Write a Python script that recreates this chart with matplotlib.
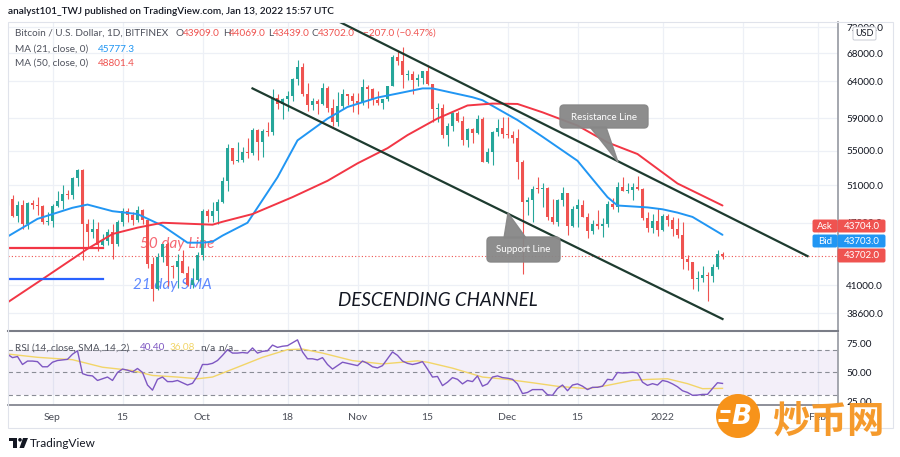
import matplotlib
matplotlib.use("Agg")
import matplotlib.pyplot as plt
import matplotlib.dates as mdates
from matplotlib.patches import FancyBboxPatch, Polygon, Circle, Rectangle
from matplotlib.ticker import NullLocator
import numpy as np
import pandas as pd

plt.rcParams['font.family'] = ['Lato', 'DejaVu Sans', 'Noto Sans CJK SC']

# ---------------- data (prices in thousands USD) ----------------
first_day = "2021-08-23"
opens = [49.0, 49.5, 47.7, 48.9, 46.9, 49.1, 48.9, 48.8, 47.1, 47.15,
         48.8, 49.3, 50.0, 49.9, 51.8, 52.7, 46.9, 46.1, 46.4, 44.8,
         45.2, 46.1, 44.9, 47.1, 48.2, 47.8, 47.3, 48.3, 47.3, 43.0,
         40.7, 43.6, 44.9, 42.8, 42.7, 43.2, 42.1, 41.0, 41.5, 43.8,
         48.2, 47.7, 48.2, 49.2, 51.5, 55.3, 53.8, 53.9, 54.9, 54.7,
         57.5, 56.0, 57.4, 57.3, 61.7, 60.9, 61.5, 62.0, 64.3, 66.0,
         62.2, 60.7, 61.3, 60.9, 63.1, 60.4, 58.5, 60.6, 62.3, 61.9,
         61.3, 61.0, 63.2, 62.9, 61.4, 61.0, 61.5, 63.3, 67.5, 66.9,
         64.9, 64.95, 64.2, 64.4, 65.5, 63.6, 60.2, 60.4, 56.9, 58.1,
         59.7, 58.7, 56.3, 57.6, 57.2, 58.9, 53.6, 54.8, 57.3, 57.8,
         57.0, 56.9, 56.5, 53.6, 49.2, 49.4, 50.6, 50.55, 50.7, 47.6,
         47.1, 49.4, 50.1, 46.7, 48.4, 48.9, 47.6, 46.2, 46.9, 46.7,
         46.9, 49.0, 48.6, 50.8, 50.4, 50.5, 50.8, 50.6, 47.5, 46.5,
         47.2, 46.3, 47.7, 47.3, 46.4, 45.8, 43.4, 43.1, 41.6, 41.7,
         41.9, 41.8, 42.7, 43.909]
highs = [50.5, 49.9, 49.3, 49.4, 49.2, 49.4, 49.7, 48.9, 48.1, 49.0,
         50.4, 51.0, 50.5, 51.9, 52.9, 52.9, 47.4, 47.4, 47.1, 45.9,
         46.4, 46.9, 47.3, 48.5, 48.5, 48.1, 48.8, 48.4, 47.4, 43.6,
         44.0, 44.9, 45.1, 42.9, 43.9, 44.3, 42.8, 42.6, 44.1, 48.4,
         48.4, 49.2, 49.5, 51.9, 55.8, 55.3, 56.1, 55.5, 56.5, 57.8,
         57.6, 57.7, 58.5, 62.9, 62.3, 61.7, 62.6, 64.5, 67.0, 66.6,
         63.7, 61.7, 61.5, 63.7, 63.3, 61.5, 62.5, 62.9, 62.3, 62.4,
         62.4, 64.3, 63.5, 63.1, 62.6, 61.6, 63.3, 67.8, 68.5, 69.0,
         65.6, 65.4, 65.0, 65.5, 66.3, 63.6, 61.0, 60.9, 58.4, 59.8,
         60.0, 59.3, 57.8, 57.8, 59.4, 59.2, 55.3, 57.4, 58.9, 59.2,
         59.2, 57.4, 57.6, 53.9, 49.7, 50.9, 51.9, 51.2, 50.8, 49.5,
         49.5, 50.8, 50.2, 48.7, 49.5, 49.4, 48.0, 47.3, 48.3, 47.5,
         49.3, 49.6, 51.4, 51.9, 51.2, 51.2, 52.1, 50.7, 48.1, 47.9,
         48.5, 47.9, 47.9, 47.6, 47.5, 47.1, 43.8, 43.1, 42.3, 42.8,
         42.2, 43.0, 44.3, 44.069]
lows = [48.9, 47.6, 47.1, 46.4, 46.4, 48.4, 47.8, 46.9, 46.8, 46.6,
        48.6, 48.4, 49.5, 49.5, 50.9, 43.3, 44.5, 45.5, 44.2, 44.7,
        44.8, 43.4, 44.7, 46.7, 47.1, 46.8, 47.1, 46.9, 42.6, 39.6,
        40.6, 43.1, 40.9, 41.7, 40.8, 42.1, 40.9, 40.8, 41.4, 43.3,
        47.1, 47.1, 46.9, 49.1, 50.4, 53.4, 53.6, 53.7, 54.1, 54.5,
        53.9, 54.2, 56.8, 56.9, 60.2, 58.9, 60.0, 61.3, 63.5, 62.0,
        60.0, 60.1, 59.6, 60.7, 59.9, 58.1, 58.0, 60.2, 60.8, 59.9,
        59.6, 60.7, 60.4, 60.7, 60.8, 60.2, 61.3, 63.3, 66.3, 63.0,
        64.1, 62.3, 63.4, 63.6, 63.5, 58.6, 58.6, 56.5, 55.6, 57.4,
        58.5, 55.7, 55.4, 55.9, 57.0, 53.6, 53.5, 53.3, 56.8, 56.6,
        56.5, 55.9, 51.7, 42.0, 47.8, 47.1, 50.1, 48.6, 47.3, 46.9,
        46.7, 48.7, 45.8, 46.6, 46.6, 47.6, 45.5, 45.9, 46.4, 45.6,
        46.6, 48.4, 48.1, 50.4, 50.2, 49.4, 50.5, 47.3, 46.1, 46.0,
        45.7, 46.2, 46.7, 45.7, 45.5, 42.5, 42.4, 40.7, 40.5, 41.3,
        39.6, 41.3, 42.5, 43.439]
closes = [49.5, 47.7, 48.9, 46.9, 49.1, 48.9, 48.8, 47.1, 47.15, 48.8,
          49.3, 50.0, 49.9, 51.8, 52.7, 46.9, 46.1, 46.4, 44.8, 45.2,
          46.1, 44.9, 47.1, 48.2, 47.8, 47.3, 48.3, 47.3, 43.0, 40.7,
          43.6, 44.9, 42.8, 42.7, 43.2, 42.1, 41.0, 41.5, 43.8, 48.2,
          47.7, 48.2, 49.2, 51.5, 55.3, 53.8, 53.9, 54.9, 54.7, 57.5,
          56.0, 57.4, 57.3, 61.7, 60.9, 61.5, 62.0, 64.3, 66.0, 62.2,
          60.7, 61.3, 60.9, 63.1, 60.4, 58.5, 60.6, 62.3, 61.9, 61.3,
          61.0, 63.2, 62.9, 61.4, 61.0, 61.5, 63.3, 67.5, 66.9, 64.9,
          64.95, 64.2, 64.4, 65.5, 63.6, 60.2, 60.4, 56.9, 58.1, 59.7,
          58.7, 56.3, 57.6, 57.2, 58.9, 53.6, 54.8, 57.3, 57.8, 57.0,
          56.9, 56.5, 53.6, 49.2, 49.4, 50.6, 50.55, 50.7, 47.6, 47.1,
          49.4, 50.1, 46.7, 48.4, 48.9, 47.6, 46.2, 46.9, 46.7, 46.9,
          49.0, 48.6, 50.8, 50.4, 50.5, 50.8, 50.6, 47.5, 46.5, 47.2,
          46.3, 47.7, 47.3, 46.4, 45.8, 43.4, 43.1, 41.6, 41.7, 41.9,
          41.8, 42.7, 43.9, 43.702]

ma21_dates = ["2021-08-23", "2021-08-29", "2021-09-05", "2021-09-08", "2021-09-13",
              "2021-09-18", "2021-09-23", "2021-09-28", "2021-10-01", "2021-10-03",
              "2021-10-05", "2021-10-10", "2021-10-16", "2021-10-20", "2021-10-26",
              "2021-10-30", "2021-11-05", "2021-11-09", "2021-11-14", "2021-11-16",
              "2021-11-24", "2021-11-26", "2021-12-03", "2021-12-08", "2021-12-15",
              "2021-12-18", "2021-12-21", "2021-12-23", "2021-12-29", "2022-01-01",
              "2022-01-04", "2022-01-07", "2022-01-13"]
ma21_vals = [45.6, 47.4, 48.56, 48.9, 48.2, 47.9, 46.7, 45.0, 45.0, 45.1,
             45.7, 47.0, 51.9, 56.25, 58.98, 60.5, 61.76, 62.3, 63.0, 63.0,
             61.8, 61.4, 58.8, 56.7, 53.8, 51.7, 49.7, 48.8, 48.6, 48.4,
             48.05, 47.6, 45.7773]
ma50_dates = ["2021-08-23", "2021-08-30", "2021-09-08", "2021-09-13", "2021-09-18",
              "2021-09-23", "2021-09-28", "2021-10-03", "2021-10-05", "2021-10-11",
              "2021-10-19", "2021-10-26", "2021-11-01", "2021-11-07", "2021-11-11",
              "2021-11-17", "2021-11-23", "2021-11-28", "2021-12-03", "2021-12-08",
              "2021-12-15", "2021-12-21", "2021-12-27", "2022-01-04", "2022-01-13"]
ma50_vals = [39.5, 41.56, 44.4, 45.86, 46.5, 47.0, 46.9, 46.8, 47.1, 47.9,
             49.7, 51.5, 53.5, 55.3, 56.9, 59.0, 60.7, 60.95, 60.9, 59.8,
             58.1, 56.0, 54.6, 51.2, 48.8014]

rsi_vals = [66, 63, 64, 57, 60, 60, 59.5, 55, 55, 59,
            60.5, 61, 61.5, 66, 69, 49, 47.5, 47, 43, 44.5,
            46, 43, 50, 53, 52, 50.5, 53.5, 50, 39, 34.5,
            44, 46, 42, 42, 43, 41, 39, 40.5, 47, 57,
            57, 58, 60.5, 65, 70, 67, 67, 67.5, 67, 71.5,
            67, 68.5, 69, 74, 72, 73, 73.5, 76, 78.6, 68,
            62, 62, 61, 63, 57, 53, 56, 59, 58, 57,
            56, 60, 58, 55, 54, 56, 62, 68, 65, 60,
            58, 57, 58, 59.5, 53, 46, 46.5, 38.5, 41.5, 45.5,
            44, 40, 43, 42, 47, 38, 40, 46, 47, 45.5,
            45, 44, 40, 31.5, 32.5, 35, 35, 35, 30.5, 30,
            36, 39, 34, 39, 40, 38, 35, 37, 37, 38,
            44, 43.5, 50, 49.5, 49.8, 50.3, 49.5, 41.5, 38.7, 40.2,
            39, 43, 42, 40, 37.5, 34, 32.5, 30, 30.2, 30.8,
            30.8, 36, 41, 40.4]
rsi_sma_dates = ["2021-08-23", "2021-08-29", "2021-09-05", "2021-09-11", "2021-09-17",
                 "2021-09-21", "2021-09-26", "2021-09-30", "2021-10-03", "2021-10-08",
                 "2021-10-13", "2021-10-18", "2021-10-21", "2021-10-25", "2021-10-31",
                 "2021-11-06", "2021-11-10", "2021-11-13", "2021-11-15", "2021-11-20",
                 "2021-11-26", "2021-12-01", "2021-12-06", "2021-12-11", "2021-12-17",
                 "2021-12-21", "2021-12-26", "2021-12-29", "2022-01-02", "2022-01-06",
                 "2022-01-09", "2022-01-13"]
rsi_sma_vals = [66.2, 63.3, 61.2, 54.6, 51.7, 47.4, 46.0, 44.5, 46.0, 54.6,
                63.3, 70.0, 70.5, 67.0, 60.4, 57.5, 59.0, 60.2, 59.0, 53.8,
                46.0, 43.9, 41.0, 37.9, 35.8, 38.7, 43.1, 43.9, 44.5, 40.2,
                35.8, 36.08]

price_ticks = [72000, 68000, 64000, 59000, 55000, 51000, 47000, 41000, 38600]
rsi_ticks = [75, 50, 25]
time_tick_dates = ["2021-09-01", "2021-09-15", "2021-10-01", "2021-10-18", "2021-11-01",
                   "2021-11-15", "2021-12-01", "2021-12-15", "2022-01-01", "2022-01-17",
                   "2022-02-01"]
time_tick_labels = ["Sep", "15", "Oct", "18", "Nov", "15", "Dec", "15", "2022", "17", "Feb"]

resistance_dates, resistance_prices = ["2021-10-27", "2022-01-30"], [73400, 43700]
support_dates, support_prices = ["2021-10-11", "2022-01-13"], [63000, 38100]
hline_dates = ["2021-08-22", "2021-09-11"]
red_hline_price = 44500
blue_hline_price = 41560
last_price = 43702.0

# ---------------- style ----------------
GREEN = '#26a69a'
RED = '#ef5350'
BLUE = '#2196f3'
MA50C = '#f23645'
PURPLE = '#7e57c2'
YELLOW = '#f2d568'
GRID = '#edf0f6'
TXT = '#131722'
LG = '#50535e'
K = 1000.0

W, H = 900, 457
fig = plt.figure(figsize=(9, 4.57), dpi=100)
fig.patch.set_facecolor('white')

def frac(l, t, r, b):
    return [l / W, 1 - b / H, (r - l) / W, (b - t) / H]

ax = fig.add_axes(frac(8, 22, 838, 331))
ax2 = fig.add_axes(frac(8, 333, 838, 405))

sep1 = mdates.date2num(pd.Timestamp("2021-09-01"))
xlim = (sep1 - 8.9, sep1 + 157.1)
tick_x = mdates.date2num(pd.to_datetime(time_tick_dates))

# ---- main price panel ----
ax.set_yscale('log')
ax.set_xlim(*xlim)
ax.set_ylim(37115, 72820)
for tx in tick_x:
    ax.axvline(tx, color=GRID, lw=0.9, zorder=0)
for p in price_ticks:
    ax.axhline(p, color=GRID, lw=0.9, zorder=0)

dates = pd.date_range(first_day, periods=len(closes), freq="D")
x = mdates.date2num(dates)
o = np.array(opens) * K
h = np.array(highs) * K
l = np.array(lows) * K
c = np.array(closes) * K
col = np.where(c >= o, GREEN, RED)
ax.vlines(x, l, h, colors=col, lw=0.8, zorder=3)
bot = np.minimum(o, c)
top = np.maximum(np.maximum(o, c), bot * 1.0022)
ax.bar(x, top - bot, bottom=bot, width=0.68, color=col, linewidth=0, zorder=4)

ax.plot(mdates.date2num(pd.to_datetime(ma21_dates)), np.array(ma21_vals) * K,
        color=BLUE, lw=1.4, zorder=5, solid_capstyle='round', solid_joinstyle='round')
ax.plot(mdates.date2num(pd.to_datetime(ma50_dates)), np.array(ma50_vals) * K,
        color=MA50C, lw=1.4, zorder=5, solid_capstyle='round', solid_joinstyle='round')

ax.plot(mdates.date2num(pd.to_datetime(resistance_dates)), resistance_prices,
        color='#1d3b2f', lw=1.6, zorder=6)
ax.plot(mdates.date2num(pd.to_datetime(support_dates)), support_prices,
        color='#1d3b2f', lw=1.6, zorder=6)

hx = mdates.date2num(pd.to_datetime(hline_dates))
ax.plot(hx, [red_hline_price] * 2, color=MA50C, lw=1.6, zorder=5)
ax.plot(hx, [blue_hline_price] * 2, color='#2962ff', lw=1.6, zorder=5)

ax.axhline(last_price, color=RED, lw=0.8, ls=(0, (1, 2)), zorder=2)

ax.text(mdates.date2num(pd.Timestamp("2021-09-26")), 44900, "50 day Line",
        color=MA50C, alpha=0.75, fontsize=11, style='italic', ha='center', va='center', zorder=2)
ax.text(mdates.date2num(pd.Timestamp("2021-09-25")), 41050, "21 day SMA",
        color='#2962ff', alpha=0.75, fontsize=11, style='italic', ha='center', va='center', zorder=2)
ax.text(mdates.date2num(pd.Timestamp("2021-11-17")), 39650, "DESCENDING CHANNEL",
        color='#131722', fontsize=13.5, style='italic', ha='center', va='center', zorder=6)

ax.yaxis.tick_right()
ax.set_yticks(price_ticks)
ax.set_yticklabels([f"{p:.1f}" for p in price_ticks])
ax.yaxis.set_minor_locator(NullLocator())
ax.tick_params(axis='y', which='both', length=0, pad=6, labelsize=7.2, labelcolor=TXT)
ax.set_xticks([])
for s in ['left', 'top']:
    ax.spines[s].set_visible(False)
ax.spines['right'].set_color('#9598a1')
ax.spines['right'].set_linewidth(1.2)
ax.spines['bottom'].set_color('#7a7d87')
ax.spines['bottom'].set_linewidth(1.5)

# ---- RSI panel ----
ax2.set_xlim(*xlim)
ax2.set_ylim(21.5, 84.6)
for tx in tick_x:
    ax2.axvline(tx, color=GRID, lw=0.9, zorder=0)
ax2.axhspan(30, 70, color=PURPLE, alpha=0.09, lw=0, zorder=1)
for lv in (70, 50, 30):
    ax2.axhline(lv, color='#8a8d96', lw=0.8, ls=(0, (4, 3)), zorder=2)
ax2.plot(x, rsi_vals, color=PURPLE, lw=1.0, zorder=4)
ax2.plot(mdates.date2num(pd.to_datetime(rsi_sma_dates)), rsi_sma_vals,
         color=YELLOW, lw=1.0, zorder=3)
ax2.yaxis.tick_right()
ax2.set_yticks(rsi_ticks)
ax2.set_yticklabels([f"{v:.2f}" for v in rsi_ticks])
ax2.tick_params(axis='y', length=0, pad=6, labelsize=7.2, labelcolor=TXT)
ax2.set_xticks(tick_x)
ax2.set_xticklabels(time_tick_labels)
ax2.tick_params(axis='x', length=0, pad=6, labelsize=7.5, labelcolor='#4a4d57')
for s in ['left', 'top']:
    ax2.spines[s].set_visible(False)
ax2.spines['right'].set_color('#9598a1')
ax2.spines['right'].set_linewidth(1.2)
ax2.spines['bottom'].set_color('#7a7d87')
ax2.spines['bottom'].set_linewidth(1.2)

# ---- overlay (pixel coordinates) ----
ov = fig.add_axes([0, 0, 1, 1], zorder=10)
ov.set_xlim(0, W)
ov.set_ylim(H, 0)
ov.axis('off')

ov.add_patch(Rectangle((8, 22), 885, 406, fill=False, ec='#e0e3eb', lw=0.8))

def t(xp, yp, s, color=LG, fs=7.2, **kw):
    ov.text(xp, yp, s, color=color, fontsize=fs, va='center', **kw)

t(8, 12, "analyst101_TWJ published on TradingView.com, Jan 13, 2022 15:57 UTC",
  color=TXT, fs=7.2, fontweight='semibold')
t(15, 33, "Bitcoin / U.S. Dollar, 1D, BITFINEX")
t(175, 33, "O"); t(183, 33, "43909.0", RED)
t(223, 33, "H"); t(229, 33, "44069.0", RED)
t(268, 33, "L"); t(273, 33, "43439.0", RED)
t(311, 33, "C"); t(318, 33, "43702.0", RED)
t(363, 33, "\u2212207.0 (\u22120.47%)", RED)
t(15, 49, "MA (21, close, 0)"); t(98, 49, "45777.3", BLUE)
t(15, 63, "MA (50, close, 0)"); t(98, 63, "48801.4", RED)
t(15, 348, "RSI (14, close, SMA, 14, 2)"); t(140, 348, "40.40", PURPLE)
t(170, 348, "36.08", YELLOW); t(200, 348, "n/a"); t(218, 348, "n/a")

def pbox(x0, y0, x1, y1, fc, txt, tc='white', fs=7.0, ec=None):
    ov.add_patch(FancyBboxPatch((x0, y0), x1 - x0, y1 - y0,
                                boxstyle="round,pad=0,rounding_size=1.5",
                                fc=fc, ec=ec or fc, lw=0.7))
    ov.text((x0 + x1) / 2, (y0 + y1) / 2 + 0.5, txt, color=tc, fontsize=fs,
            ha='center', va='center')

pbox(853, 27, 876, 40, 'white', "USD", tc=TXT, fs=6.5, ec='#c8cbd3')
pbox(813, 220, 837, 232, RED, "Ask")
pbox(838, 220, 885, 232, RED, "43704.0")
pbox(813, 235, 837, 247, BLUE, "Bid")
pbox(838, 235, 885, 247, BLUE, "43703.0")
pbox(838, 249, 885, 262, RED, "43702.0")

CALL = '#878787'
ov.add_patch(FancyBboxPatch((560, 105), 88, 23, boxstyle="round,pad=0,rounding_size=4",
                            fc=CALL, ec=CALL, alpha=0.95))
ov.add_patch(Polygon([(590, 127), (606, 127), (618, 162)], closed=True, fc=CALL, ec=CALL, alpha=0.95))
ov.text(604, 117, "Resistance Line", color='white', fontsize=7, ha='center', va='center')
ov.add_patch(FancyBboxPatch((487, 237), 73, 25, boxstyle="round,pad=0,rounding_size=4",
                            fc=CALL, ec=CALL, alpha=0.95))
ov.add_patch(Polygon([(504, 238), (526, 238), (508, 213)], closed=True, fc=CALL, ec=CALL, alpha=0.95))
ov.text(523.5, 250, "Support Line", color='white', fontsize=7, ha='center', va='center')

# TradingView logo
ov.add_patch(Rectangle((9, 438), 8, 3.2, fc=TXT, ec='none'))
ov.add_patch(Rectangle((13, 438), 4, 10, fc=TXT, ec='none'))
ov.add_patch(Circle((20, 439.8), 1.8, fc=TXT, ec='none'))
ov.add_patch(Polygon([(23, 438), (28, 438), (24, 448), (19.5, 448)], closed=True, fc=TXT, ec='none'))
t(30, 443.5, "TradingView", color=TXT, fs=8.5)

# watermark
ORANGE = '#f7931a'
ov.add_patch(Circle((738, 416), 22, fc=ORANGE, ec='none'))
ov.text(741, 417, "B", color='white', fontsize=19, fontweight='bold', style='italic',
        ha='center', va='center', family='DejaVu Sans')
ov.plot([720, 730], [411, 411], color='white', lw=2.2, solid_capstyle='butt')
ov.plot([718, 728], [420, 420], color='white', lw=2.2, solid_capstyle='butt')
ov.text(828, 421, "炒币网", color='#f59a2c', fontsize=27, fontweight='bold',
        ha='center', va='center', family=['Noto Sans CJK SC', 'DejaVu Sans'])

fig.savefig("out.png", dpi=100, facecolor='white')
